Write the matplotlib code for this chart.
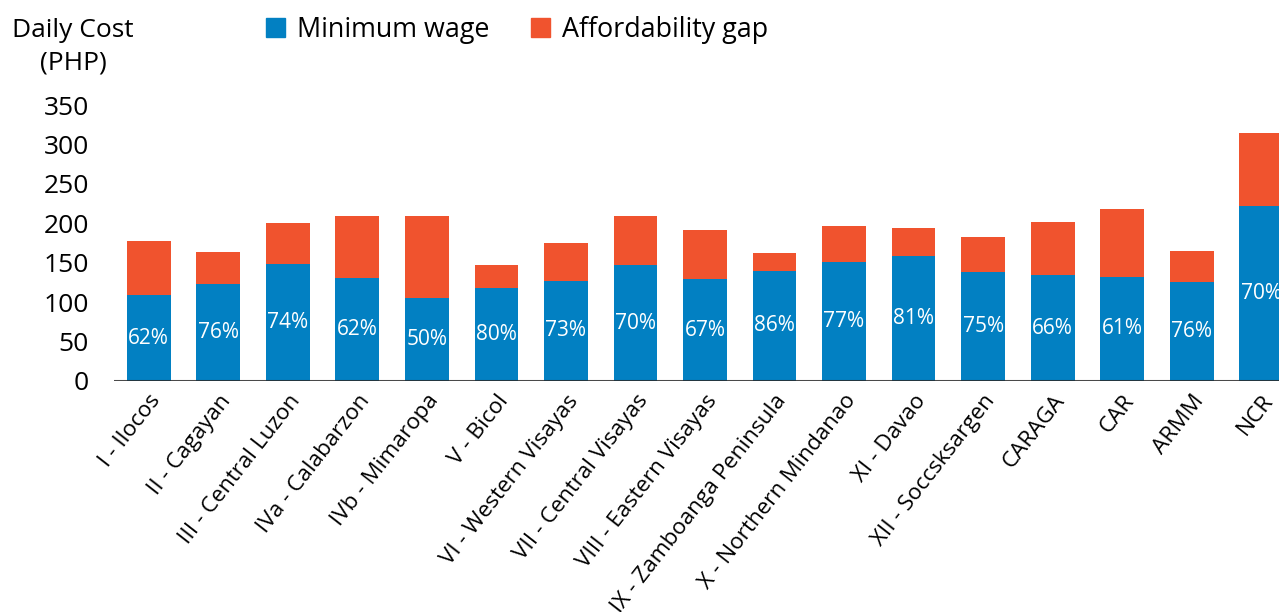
import matplotlib
matplotlib.use("Agg")
import matplotlib.pyplot as plt
from matplotlib.patches import Patch

plt.rcParams['font.family'] = ['Open Sans', 'DejaVu Sans']

# Dados
regions = ["I - Ilocos", "II - Cagayan", "III - Central Luzon", "IVa - Calabarzon",
           "IVb - Mimaropa", "V - Bicol", "VI - Western Visayas", "VII - Central Visayas",
           "VIII - Eastern Visayas", "IX - Zamboanga Peninsula", "X - Northern Mindanao",
           "XI - Davao", "XII - Soccsksargen", "CARAGA", "CAR", "ARMM", "NCR"]
min_wage = [109, 123, 149, 131, 105, 118, 127, 147, 129, 140, 151, 158, 138, 134, 132, 125, 222]
gap = [69, 40, 51, 78, 104, 29, 48, 62, 63, 22, 45, 36, 45, 68, 86, 40, 92]
pct_labels = ["62%", "76%", "74%", "62%", "50%", "80%", "73%", "70%", "67%",
              "86%", "77%", "81%", "75%", "66%", "61%", "76%", "70%"]
yticks = [0, 50, 100, 150, 200, 250, 300, 350]

blue = '#0280c2'
orange = '#f0532e'

W, H = 1279, 612
fig = plt.figure(figsize=(W / 100, H / 100), dpi=100)
# eixo passa um pouco da borda direita, como no original
ax = fig.add_axes([114 / W, 1 - 381 / H, (1296 - 114) / W, (381 - 105) / H])

x = range(len(regions))
ax.bar(x, min_wage, width=0.63, color=blue, zorder=2)
ax.bar(x, gap, width=0.63, bottom=min_wage, color=orange, zorder=2)

for i, (w, lab) in enumerate(zip(min_wage, pct_labels)):
    ax.text(i, w / 2, lab, ha='center', va='center', color='white', fontsize=15, zorder=4)

ax.axhline(0, color='#2a2a2a', lw=2.2, alpha=0.85, zorder=3)

ax.set_xlim(-0.5, 16.5)
ax.set_ylim(0, 350)
ax.set_yticks(yticks)
ax.set_xticks(list(x))
ax.set_xticklabels(regions)
for s in ax.spines.values():
    s.set_visible(False)
ax.tick_params(axis='y', length=0, pad=18, labelsize=19)
ax.tick_params(axis='x', length=0, pad=7, labelsize=16.2)
plt.setp(ax.get_xticklabels(), rotation=52, ha='right', va='top', rotation_mode='anchor')

fig.text(73 / W, 1 - 47 / H, "Daily Cost\n(PHP)", ha='center', va='center',
         fontsize=19, linespacing=1.38)

handles = [Patch(color=blue, label="Minimum wage"), Patch(color=orange, label="Affordability gap")]
fig.legend(handles=handles, loc='center left', bbox_to_anchor=(266 / W, 1 - 30 / H),
           ncol=2, frameon=False, fontsize=19.4, handlelength=0.72, handleheight=0.72,
           handletextpad=0.42, columnspacing=1.55, borderpad=0, borderaxespad=0)

plt.savefig("out.png", dpi=100)
